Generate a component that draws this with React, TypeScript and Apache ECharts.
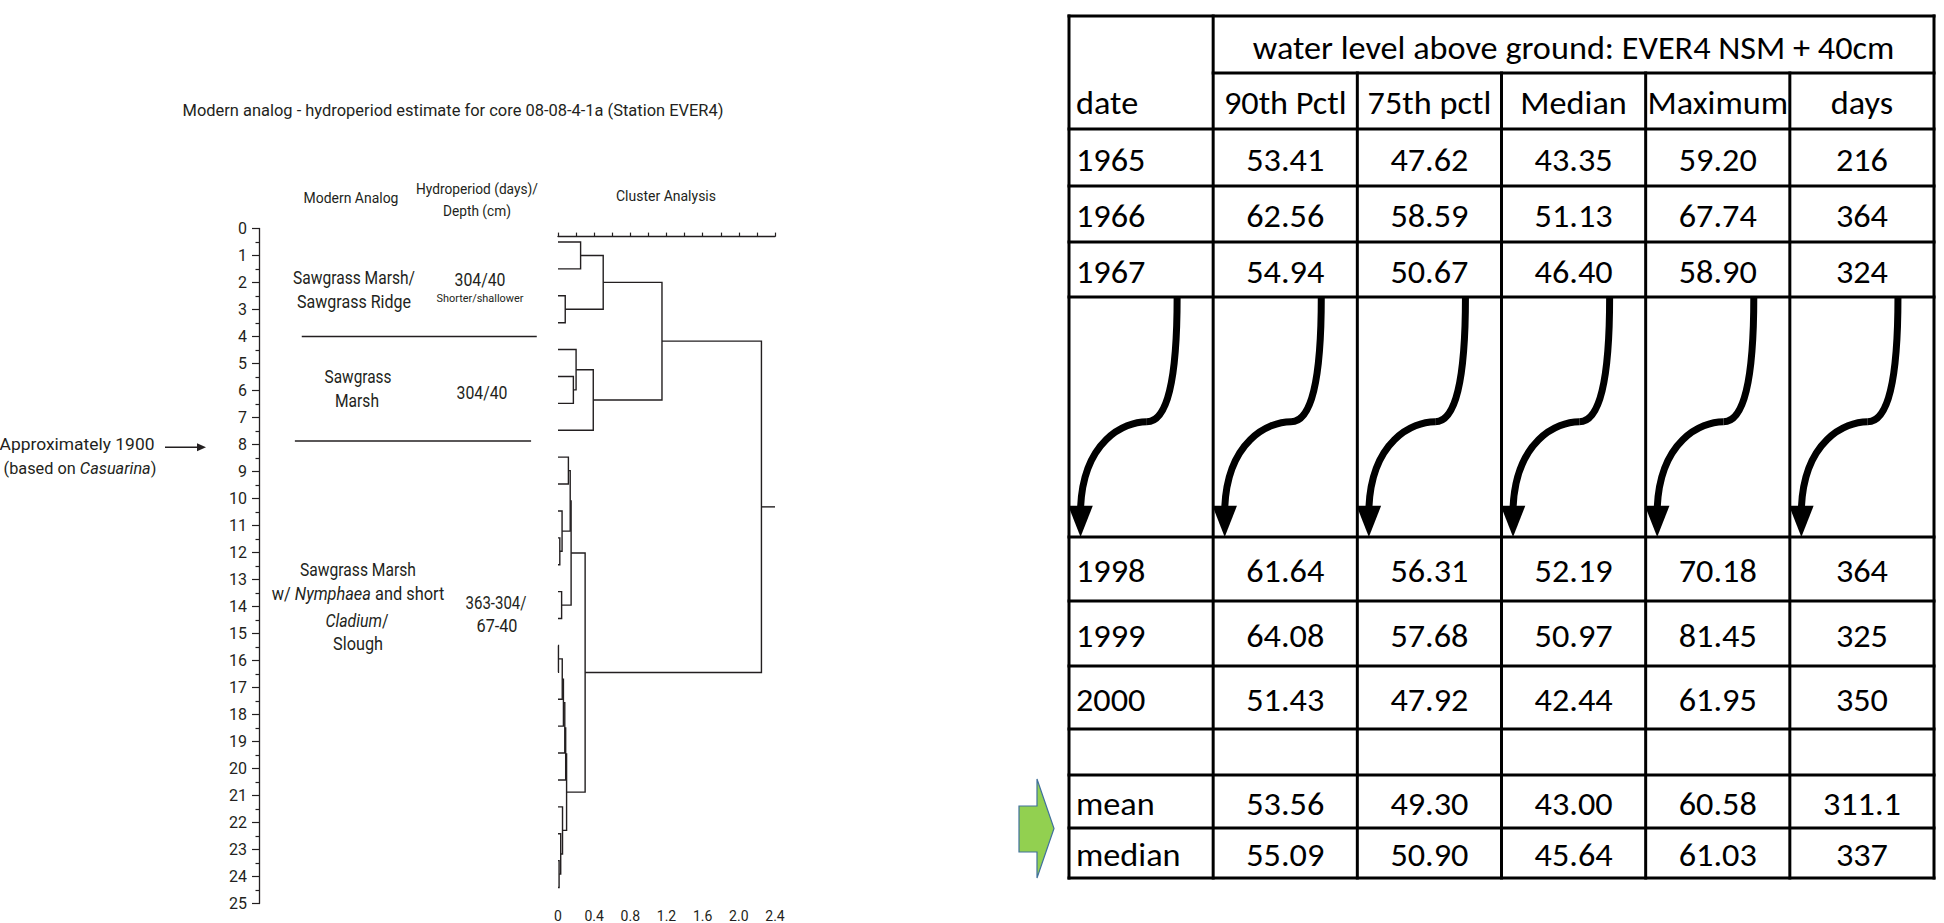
import React, { useEffect, useRef } from 'react';
import * as echarts from 'echarts';

// ---------------- data ----------------
// core depth axis (cm)
const depthMin = 0;
const depthMax = 25;
// cluster leaves: one sample per cm, centred in each interval
const leafDepths = [0.5, 1.5, 2.5, 3.5, 4.5, 5.5, 6.5, 7.5, 8.5, 9.5, 10.5, 11.5, 12.5, 13.5, 14.5, 15.5, 16.5, 17.5, 18.5, 19.5, 20.5, 21.5, 22.5, 23.5, 24.5];
// agglomeration steps: [child A, child B, merge distance]; ids < 25 are leaves, id 25 + k is merge k
const clusterMerges: [number, number, number][] = [
  [0, 1, 0.25], [2, 3, 0.08], [25, 26, 0.5],
  [5, 6, 0.17], [4, 28, 0.2], [29, 7, 0.39], [27, 30, 1.15],
  [8, 9, 0.115], [11, 12, 0.02], [10, 33, 0.045], [32, 34, 0.135], [13, 14, 0.04], [35, 36, 0.145],
  [15, 16, 0.005], [38, 17, 0.047], [39, 18, 0.06], [40, 19, 0.075], [41, 20, 0.085],
  [23, 24, 0.012], [22, 43, 0.03], [21, 44, 0.05], [42, 45, 0.095],
  [37, 46, 0.3], [31, 47, 2.25],
];
const clusterAxisMax = 2.4;
const clusterLabelStep = 0.4;
const clusterTickStep = 0.2;
const zoneBoundaries = [4.0, 7.87];
const markerDepth = 8.1; // approximately 1900

// table
const headerTitle = 'water level above ground: EVER4 NSM + 40cm';
const columnHeaders = ['90th Pctl', '75th pctl', 'Median', 'Maximum', 'days'];
const years = ['1965', '1966', '1967', '1998', '1999', '2000'];
const pct90 = [53.41, 62.56, 54.94, 61.64, 64.08, 51.43];
const pct75 = [47.62, 58.59, 50.67, 56.31, 57.68, 47.92];
const medianVals = [43.35, 51.13, 46.4, 52.19, 50.97, 42.44];
const maxVals = [59.2, 67.74, 58.9, 70.18, 81.45, 61.95];
const days = ['216', '364', '324', '364', '325', '350'];
const summaryLabels = ['mean', 'median'];
const sum90 = [53.56, 55.09];
const sum75 = [49.3, 50.9];
const sumMedian = [43.0, 45.64];
const sumMax = [60.58, 61.03];
const sumDays = ['311.1', '337'];

// ---------------- layout ----------------
const PAGE_W = 1944;
const PAGE_H = 923;
const INK = '#231F20';
const LEFT_FONT = 'Roboto, "Noto Sans", sans-serif';
const TABLE_FONT = 'Carlito, Calibri, Lato, sans-serif';

const DEPTH_AXIS_X = 259;
const DEPTH_TOP = 228.5;
const DEPTH_BOTTOM = 903.5;
const DENDRO_LEFT = 558;
const DENDRO_RIGHT = 775;
const DENDRO_TOP_DEPTH = 0.3;
const ZONE_LINE_X: [number, number][] = [[0.143, 0.929], [0.12, 0.91]];

const TABLE_LEFT = 1069;
const TABLE_RIGHT = 1934;
const ROW_EDGES = [16, 73, 129, 186, 242, 297, 537, 601, 666, 729, 775, 828, 878];
const DATA_ROWS = [2, 3, 4, 6, 7, 8];
const SUMMARY_ROWS = [10, 11];
const ARROW_ROW = 5;
const TABLE_FONT_SIZE = 32;
const HEADER_TARGET_W = 642;
const TEXT_DY = 2;
const HEADER_DY = 3;

const LEFT_TEXTS = [
  { text: 'Modern analog - hydroperiod estimate for core 08-08-4-1a (Station EVER4)', cx: 453, cy: 110, w: 541, size: 17 },
  { text: 'Modern Analog', cx: 351, cy: 198, w: 95, size: 15 },
  { text: 'Hydroperiod (days)/', cx: 477, cy: 189, w: 122, size: 15 },
  { text: 'Depth (cm)', cx: 477, cy: 211, w: 68, size: 15 },
  { text: 'Cluster Analysis', cx: 666, cy: 196, w: 100, size: 15 },
  { text: 'Sawgrass Marsh/', cx: 354, cy: 277, w: 122, size: 19 },
  { text: 'Sawgrass Ridge', cx: 354, cy: 302, w: 114, size: 19 },
  { text: '304/40', cx: 480, cy: 279, w: 51, size: 19 },
  { text: 'Shorter/shallower', cx: 480, cy: 298, w: 87, size: 11 },
  { text: 'Sawgrass', cx: 358, cy: 376, w: 67, size: 19 },
  { text: 'Marsh', cx: 357, cy: 400, w: 44, size: 19 },
  { text: '304/40', cx: 482, cy: 392, w: 51, size: 19 },
  { text: 'Sawgrass Marsh', cx: 358, cy: 569, w: 116, size: 19 },
  { text: 'w/ {i|Nymphaea} and short', plain: 'w/ Nymphaea and short', cx: 358, cy: 594, w: 175, size: 19 },
  { text: '{i|Cladium}/', plain: 'Cladium/', cx: 357, cy: 620, w: 65, size: 19 },
  { text: 'Slough', cx: 358, cy: 644, w: 50, size: 19 },
  { text: '363-304/', cx: 496, cy: 602, w: 61, size: 19 },
  { text: '67-40', cx: 497, cy: 626, w: 41, size: 19 },
  { text: 'Approximately 1900', cx: 77, cy: 444, w: 155, size: 17 },
  { text: '(based on {i|Casuarina})', plain: '(based on Casuarina)', cx: 80, cy: 468, w: 155, size: 17 },
];

let measureCtx: CanvasRenderingContext2D | null = null;
function textWidth(text: string, size: number, family: string) {
  if (!measureCtx) measureCtx = document.createElement('canvas').getContext('2d');
  if (!measureCtx) return text.length * size * 0.5;
  measureCtx.font = `normal ${size}px ${family}`;
  return measureCtx.measureText(text).width;
}

function buildOption() {
  // dendrogram links
  const nodeDepth = leafDepths.slice();
  const nodeHeight = leafDepths.map(() => 0);
  const links = clusterMerges.map(([a, b, h]) => {
    const item = [nodeHeight[a], nodeDepth[a], nodeHeight[b], nodeDepth[b], h];
    nodeDepth.push((nodeDepth[a] + nodeDepth[b]) / 2);
    nodeHeight.push(h);
    return item;
  });
  const root = nodeDepth.length - 1;

  // table geometry (y in px relative to table top)
  const T0 = ROW_EDGES[0];
  const rel = (y: number) => y - T0;
  const rowMid = (r: number) => rel((ROW_EDGES[r] + ROW_EDGES[r + 1]) / 2) + TEXT_DY;
  const tableH = ROW_EDGES[ROW_EDGES.length - 1] - T0;

  const lines: number[][] = [];
  ROW_EDGES.forEach((y, i) => lines.push([i === 1 ? 1 : 0, rel(y), 6, rel(y)]));
  [0, 1, 6].forEach((c) => lines.push([c, 0, c, tableH]));
  [2, 3, 4, 5].forEach((c) => lines.push([c, rel(ROW_EDGES[1]), c, tableH]));

  type Cell = { x: number; y: number; text: string; align: 'left' | 'center' };
  const cells: Cell[] = [];
  cells.push({ x: 3.5, y: rowMid(0) - TEXT_DY + HEADER_DY, text: headerTitle, align: 'center' });
  cells.push({ x: 0, y: rowMid(1), text: 'date', align: 'left' });
  columnHeaders.forEach((h, i) => cells.push({ x: i + 1.5, y: rowMid(1), text: h, align: 'center' }));
  years.forEach((yr, i) => {
    const y = rowMid(DATA_ROWS[i]);
    cells.push({ x: 0, y, text: yr, align: 'left' });
    [pct90, pct75, medianVals, maxVals].forEach((arr, j) => cells.push({ x: j + 1.5, y, text: arr[i].toFixed(2), align: 'center' }));
    cells.push({ x: 5.5, y, text: days[i], align: 'center' });
  });
  summaryLabels.forEach((lab, i) => {
    const y = rowMid(SUMMARY_ROWS[i]);
    cells.push({ x: 0, y, text: lab, align: 'left' });
    [sum90, sum75, sumMedian, sumMax].forEach((arr, j) => cells.push({ x: j + 1.5, y, text: arr[i].toFixed(2), align: 'center' }));
    cells.push({ x: 5.5, y, text: sumDays[i], align: 'center' });
  });

  const tableScale = HEADER_TARGET_W / textWidth(headerTitle, TABLE_FONT_SIZE, TABLE_FONT);
  const arrowTop = rel(ROW_EDGES[ARROW_ROW]);
  const arrowH = ROW_EDGES[ARROW_ROW + 1] - ROW_EDGES[ARROW_ROW];

  const depthH = DEPTH_BOTTOM - DEPTH_TOP;
  const dendroTop = DEPTH_TOP + (DENDRO_TOP_DEPTH / depthMax) * depthH;

  return {
    animation: false,
    backgroundColor: '#ffffff',
    textStyle: { fontFamily: LEFT_FONT, color: INK },
    grid: [
      { left: DEPTH_AXIS_X, top: DEPTH_TOP, width: DENDRO_LEFT - DEPTH_AXIS_X, height: depthH },
      { left: DENDRO_LEFT, top: dendroTop, width: DENDRO_RIGHT - DENDRO_LEFT, height: DEPTH_BOTTOM - dendroTop },
      { left: TABLE_LEFT, top: T0, width: TABLE_RIGHT - TABLE_LEFT, height: tableH },
    ],
    xAxis: [
      { type: 'value', gridIndex: 0, min: 0, max: 1, show: false },
      {
        type: 'value', gridIndex: 1, position: 'top', min: 0, max: clusterAxisMax, interval: clusterTickStep,
        axisLine: { show: true, lineStyle: { color: INK, width: 1.3 } },
        axisTick: { show: true, inside: false, length: 4, lineStyle: { color: INK, width: 1.2 } },
        axisLabel: { show: false }, splitLine: { show: false },
      },
      {
        type: 'value', gridIndex: 1, position: 'bottom', min: 0, max: clusterAxisMax, interval: clusterLabelStep,
        axisLine: { show: false }, axisTick: { show: false }, splitLine: { show: false },
        axisLabel: {
          show: true, fontSize: 14, color: INK, margin: 8, fontFamily: LEFT_FONT,
          formatter: (v: number) => (v === 0 ? '0' : v.toFixed(1)),
        },
      },
      { type: 'value', gridIndex: 2, min: 0, max: 6, show: false },
    ],
    yAxis: [
      {
        type: 'value', gridIndex: 0, min: depthMin, max: depthMax, interval: 1, inverse: true,
        axisLine: { show: true, lineStyle: { color: INK, width: 1.3 } },
        axisTick: { show: true, inside: false, length: 7, lineStyle: { color: INK, width: 1.2 } },
        minorTick: { show: true, splitNumber: 2, length: 3.5, lineStyle: { color: INK, width: 1.2 } },
        axisLabel: { show: true, fontSize: 16, color: INK, margin: 12, fontFamily: LEFT_FONT },
        splitLine: { show: false },
      },
      { type: 'value', gridIndex: 1, min: DENDRO_TOP_DEPTH, max: depthMax, inverse: true, show: false },
      { type: 'value', gridIndex: 2, min: 0, max: tableH, inverse: true, show: false },
    ],
    series: [
      ...zoneBoundaries.map((d, i) => ({
        type: 'line', xAxisIndex: 0, yAxisIndex: 0, symbol: 'none', silent: true,
        lineStyle: { color: INK, width: 1.4 },
        data: [[ZONE_LINE_X[i][0], d], [ZONE_LINE_X[i][1], d]],
      })),
      {
        type: 'custom', xAxisIndex: 1, yAxisIndex: 1, silent: true, clip: false,
        encode: { x: [0, 2, 4], y: [1, 3] },
        data: links,
        renderItem: (_p: any, api: any) => {
          const a = api.coord([api.value(0), api.value(1)]);
          const m1 = api.coord([api.value(4), api.value(1)]);
          const m2 = api.coord([api.value(4), api.value(3)]);
          const b = api.coord([api.value(2), api.value(3)]);
          return { type: 'polyline', shape: { points: [a, m1, m2, b] }, style: { stroke: INK, lineWidth: 1.4, fill: 'none' } };
        },
      },
      {
        type: 'line', xAxisIndex: 1, yAxisIndex: 1, symbol: 'none', silent: true,
        lineStyle: { color: INK, width: 1.4 },
        data: [[nodeHeight[root], nodeDepth[root]], [clusterAxisMax, nodeDepth[root]]],
      },
      {
        type: 'custom', xAxisIndex: 3, yAxisIndex: 2, silent: true, clip: false,
        encode: { x: [0, 2], y: [1, 3] },
        data: lines,
        renderItem: (_p: any, api: any) => {
          const a = api.coord([api.value(0), api.value(1)]);
          const b = api.coord([api.value(2), api.value(3)]);
          return { type: 'line', shape: { x1: a[0], y1: a[1], x2: b[0], y2: b[1] }, style: { stroke: '#000', lineWidth: 3, lineCap: 'square' } };
        },
      },
      {
        type: 'custom', xAxisIndex: 3, yAxisIndex: 2, silent: true, clip: false,
        encode: { x: 0, y: 1 },
        data: cells.map((c) => [c.x, c.y]),
        renderItem: (p: any, api: any) => {
          const c = cells[p.dataIndex];
          const pt = api.coord([c.x, c.y]);
          return {
            type: 'text', x: pt[0] + (c.align === 'left' ? 7 : 0), y: pt[1], scaleX: tableScale,
            style: { text: c.text, fontSize: TABLE_FONT_SIZE, fontFamily: TABLE_FONT, fill: '#000', align: c.align, verticalAlign: 'middle' },
          };
        },
      },
      {
        type: 'custom', xAxisIndex: 3, yAxisIndex: 2, silent: true, clip: false,
        encode: { x: 0 },
        data: [[0], [1], [2], [3], [4], [5]],
        renderItem: (_p: any, api: any) => {
          const col = api.value(0);
          const P = (fx: number, fy: number) => api.coord([col + fx, arrowTop + fy * arrowH]);
          const s0 = P(0.75, 0);
          const c1 = P(0.75, 0.35);
          const c2 = P(0.68, 0.52);
          const k = P(0.54, 0.52);
          const c3 = P(0.38, 0.52);
          const c4 = P(0.1, 0.6);
          const e = P(0.08, 0.87);
          const hl = P(-0.005, 0.87);
          const hr = P(0.165, 0.87);
          const tip = P(0.08, 1);
          const st = { stroke: '#000', lineWidth: 7, fill: 'none' };
          return {
            type: 'group',
            children: [
              { type: 'bezierCurve', shape: { x1: s0[0], y1: s0[1], cpx1: c1[0], cpy1: c1[1], cpx2: c2[0], cpy2: c2[1], x2: k[0], y2: k[1] }, style: st },
              { type: 'bezierCurve', shape: { x1: k[0], y1: k[1], cpx1: c3[0], cpy1: c3[1], cpx2: c4[0], cpy2: c4[1], x2: e[0], y2: e[1] + 2 }, style: st },
              { type: 'polygon', shape: { points: [hl, hr, tip] }, style: { fill: '#000' } },
            ],
          };
        },
      },
    ],
  };
}

function buildGraphics(markerY: number) {
  const els: any[] = LEFT_TEXTS.map((t: any) => {
    const s = t.w / textWidth(t.plain || t.text, t.size, LEFT_FONT);
    return {
      type: 'text', x: t.cx, y: t.cy, scaleX: s, silent: true,
      style: {
        text: t.text, fontSize: t.size, fontFamily: LEFT_FONT, fill: INK, align: 'center', verticalAlign: 'middle',
        rich: { i: { fontStyle: 'italic', fontSize: t.size, fontFamily: LEFT_FONT, fill: INK } },
      },
    };
  });
  // marker arrow "Approximately 1900"
  els.push({ type: 'line', silent: true, shape: { x1: 165, y1: markerY, x2: 199, y2: markerY }, style: { stroke: INK, lineWidth: 1.4 } });
  els.push({ type: 'polygon', silent: true, shape: { points: [[197, markerY - 4], [206, markerY], [197, markerY + 4]] }, style: { fill: INK } });
  // green block arrow
  els.push({
    type: 'polygon', silent: true,
    shape: { points: [[1019, 806], [1037, 806], [1037, 779], [1054, 828.5], [1037, 878], [1037, 852], [1019, 852]] },
    style: { fill: '#92D050', stroke: '#41719C', lineWidth: 1.2 },
  });
  return els;
}

export default function App() {
  const ref = useRef<HTMLDivElement>(null);
  useEffect(() => {
    if (!ref.current) return;
    const chart = echarts.init(ref.current, null, { renderer: 'svg' });
    chart.setOption(buildOption() as any);
    const py = chart.convertToPixel({ gridIndex: 0 } as any, [0, markerDepth]) as any;
    const markerY = Array.isArray(py) ? py[1] : DEPTH_TOP + (markerDepth / depthMax) * (DEPTH_BOTTOM - DEPTH_TOP);
    chart.setOption({ graphic: buildGraphics(markerY) } as any);
    return () => chart.dispose();
  }, []);
  return <div ref={ref} style={{ position: 'fixed', left: 0, top: 0, width: PAGE_W, height: PAGE_H, background: '#fff' }} />;
}
